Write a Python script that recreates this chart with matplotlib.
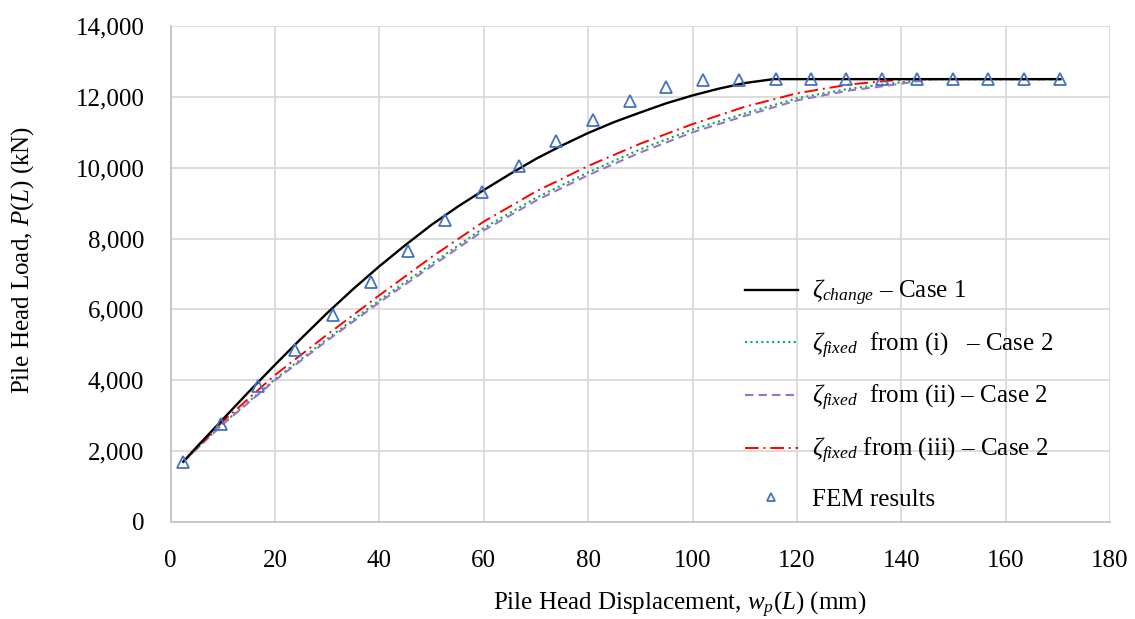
import matplotlib
matplotlib.use("Agg")
import matplotlib.pyplot as plt
from matplotlib.ticker import FuncFormatter, MultipleLocator

plt.rcParams['font.family'] = ['Liberation Serif', 'DejaVu Serif']
plt.rcParams['mathtext.fontset'] = 'custom'
plt.rcParams['mathtext.rm'] = 'Liberation Serif'
plt.rcParams['mathtext.it'] = 'Liberation Serif:italic'
plt.rcParams['mathtext.bf'] = 'Liberation Serif:bold'

# ---------------- data ----------------
fem_x = [2.4, 9.6, 16.8, 23.9, 31.1, 38.3, 45.4, 52.5, 59.7, 66.8, 73.8, 80.9,
         88.0, 95.0, 102.0, 108.9, 116.0, 122.7, 129.4, 136.3, 143.0, 149.9,
         156.6, 163.6, 170.5]
fem_y = [1700, 2780, 3840, 4850, 5840, 6780, 7660, 8520, 9320, 10050, 10750,
         11360, 11890, 12280, 12470, 12470, 12490, 12500, 12500, 12500, 12500,
         12500, 12500, 12500, 12500]

case1_x = [2.4, 5, 10, 15, 20, 25, 30, 35, 40, 45, 50, 55, 60, 65, 70, 75, 80,
           85, 90, 95, 100, 105, 110, 115.5, 170.5]
case1_y = [1700, 2120, 2900, 3680, 4440, 5180, 5900, 6580, 7220, 7820, 8390,
           8900, 9370, 9820, 10250, 10630, 10980, 11290, 11560, 11820, 12040,
           12230, 12390, 12500, 12500]

fix_i_x = [2.4, 10, 20, 30, 40, 50, 60, 70, 80, 90, 100, 110, 120, 130, 136, 145, 170.5]
fix_i_y = [1700, 2780, 4030, 5170, 6260, 7290, 8300, 9150, 9870, 10520, 11080,
           11530, 11960, 12230, 12340, 12500, 12500]

fix_ii_x = [2.4, 10, 20, 30, 40, 50, 60, 70, 80, 90, 100, 110, 120, 130, 136, 146, 170.5]
fix_ii_y = [1700, 2760, 4000, 5120, 6200, 7220, 8230, 9070, 9790, 10430, 11000,
            11460, 11900, 12180, 12290, 12500, 12500]

fix_iii_x = [2.4, 10, 20, 30, 40, 50, 60, 70, 80, 90, 100, 110, 120, 130, 141, 170.5]
fix_iii_y = [1700, 2840, 4150, 5290, 6400, 7480, 8480, 9330, 10050, 10680, 11230,
             11720, 12100, 12350, 12500, 12500]

labels = [r'$\zeta_{change}$ – Case 1',
          r'$\zeta_{fixed}$  from (i)   – Case 2',
          r'$\zeta_{fixed}$  from (ii) – Case 2',
          r'$\zeta_{fixed}$ from (iii) – Case 2',
          'FEM results']

# ---------------- figure ----------------
W, H = 1135, 619
fig = plt.figure(figsize=(W / 100, H / 100), dpi=100)
L, R, T, B = 170.7, 1110, 26, 522
ax = fig.add_axes([L / W, (H - B) / H, (R - L) / W, (B - T) / H])

ax.plot(case1_x, case1_y, color='black', lw=1.7, label=labels[0], zorder=4)
ax.plot(fix_i_x, fix_i_y, color='#00B050', lw=1.5, ls=(0, (1, 1.6)),
        label=labels[1], zorder=3)
ax.plot(fix_ii_x, fix_ii_y, color='#9E6FCB', lw=1.5, ls=(0, (4, 2.5)),
        label=labels[2], zorder=3)
ax.plot(fix_iii_x, fix_iii_y, color='#FF0000', lw=1.4, ls=(0, (7, 2.5, 1, 2.5)),
        label=labels[3], zorder=3)
ax.plot(fem_x, fem_y, ls='none', marker='^', ms=8, mfc='none', mec='#4472C4',
        mew=1.3, label=labels[4], zorder=5)

ax.set_xlim(0, 180)
ax.set_ylim(0, 14000)
ax.xaxis.set_major_locator(MultipleLocator(20))
ax.yaxis.set_major_locator(MultipleLocator(2000))
ax.yaxis.set_major_formatter(FuncFormatter(lambda v, p: f'{int(v):,}'))

ax.grid(True, color='#D9D9D9', lw=1.3)
ax.set_axisbelow(True)
for s in ['top', 'right']:
    ax.spines[s].set_visible(False)
for s in ['left', 'bottom']:
    ax.spines[s].set_color('#C4C4C4')
    ax.spines[s].set_linewidth(1.3)

ax.tick_params(axis='both', length=0, labelsize=18, colors='black')
ax.tick_params(axis='y', pad=19)
ax.tick_params(axis='x', pad=20)

ax.set_xlabel(r'Pile Head Displacement, $\mathit{w_p(L)}$ (mm)', fontsize=18)
ax.set_ylabel(r'Pile Head Load, $\mathit{P(L)}$ (kN)', fontsize=18)
ax.xaxis.set_label_coords((680 - L) / (R - L), (B - 605) / (B - T))
ax.xaxis.label.set_va('center')
ax.yaxis.set_label_coords((23 - L) / (R - L), (B - 260) / (B - T))
ax.yaxis.label.set_va('center')

leg = ax.legend(loc='upper left', bbox_to_anchor=((745 - L) / (R - L), (B - 278) / (B - T)),
                frameon=False, fontsize=18, handlelength=2.1, handletextpad=0.6,
                labelspacing=0.9, borderpad=0, borderaxespad=0, numpoints=1,
                markerscale=0.7)

fig.savefig('out.png', dpi=100)
